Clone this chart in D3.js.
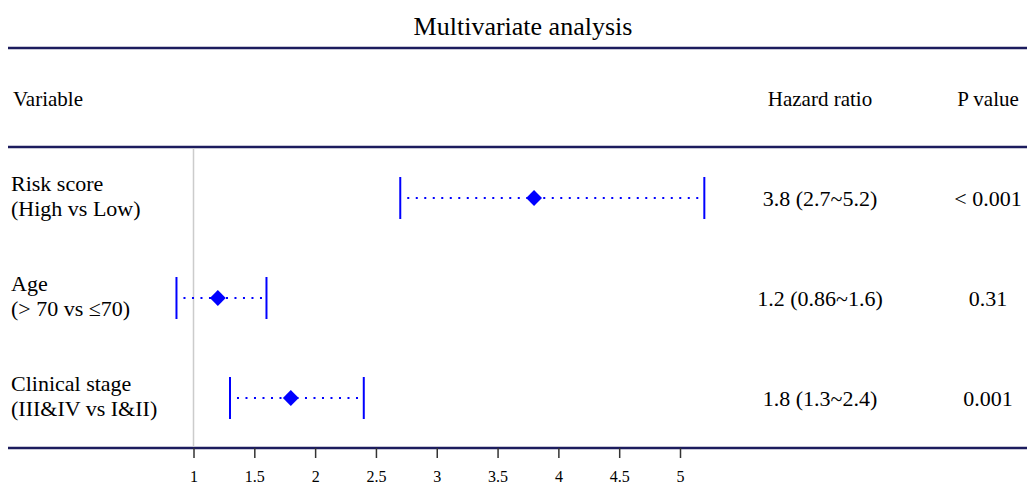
<!DOCTYPE html>
<html>
<head>
<meta charset="utf-8">
<script src="https://cdn.jsdelivr.net/npm/d3@7"></script>
<style>
  body { margin: 0; background: #fff; }
  svg text { font-family: "Liberation Serif", "Times New Roman", serif; fill: #000; }
</style>
</head>
<body>
<div id="chart"></div>
<script>
const variables = ['Risk score', 'Age', 'Clinical stage'];
const subLabels = ['(High vs Low)', '(> 70 vs \u226470)', '(III&IV vs I&II)'];
const hr = [3.8, 1.2, 1.8];
const lower = [2.7, 0.86, 1.3];
const upper = [5.2, 1.6, 2.4];
const hrText = ['3.8 (2.7~5.2)', '1.2 (0.86~1.6)', '1.8 (1.3~2.4)'];
const pText = ['< 0.001', '0.31', '0.001'];
const ticks = [1, 1.5, 2, 2.5, 3, 3.5, 4, 4.5, 5];

const width = 1027, height = 487;
const navy = '#1c1c5e';

const svg = d3.select('#chart').append('svg')
    .attr('width', width)
    .attr('height', height);

const x = d3.scaleLinear().domain([1, 5]).range([193.5, 680]);
const y = d3.scalePoint().domain(variables).range([198, 398]);

const topY = 147, bottomY = 448;

// title + header
svg.append('text')
    .attr('x', 523).attr('y', 35)
    .attr('text-anchor', 'middle')
    .style('font-size', '26px')
    .text('Multivariate analysis');

[48, topY, bottomY].forEach(yy => {
    svg.append('line')
        .attr('x1', 8).attr('x2', width)
        .attr('y1', yy).attr('y2', yy)
        .attr('stroke', navy)
        .attr('stroke-width', 2.5);
});

svg.append('text').attr('x', 13).attr('y', 106).style('font-size', '21px').text('Variable');
svg.append('text').attr('x', 820).attr('y', 106).attr('text-anchor', 'middle').style('font-size', '21px').text('Hazard ratio');
svg.append('text').attr('x', 988).attr('y', 106).attr('text-anchor', 'middle').style('font-size', '21px').text('P value');

// reference line at HR = 1
svg.append('line')
    .attr('x1', x(1)).attr('x2', x(1))
    .attr('y1', topY + 1).attr('y2', bottomY - 1)
    .attr('stroke', '#cccccc')
    .attr('stroke-width', 1.5);

// axis
const axis = svg.append('g')
    .attr('transform', `translate(0,${bottomY})`)
    .call(d3.axisBottom(x).tickValues(ticks).tickSize(10).tickPadding(13).tickFormat(d3.format('')));
axis.select('.domain').remove();
axis.selectAll('.tick line').attr('stroke', '#333').attr('stroke-width', 1.5);
axis.selectAll('.tick text').style('font-size', '16px').style('font-family', '"Liberation Serif", serif');

// rows
const rows = svg.append('g').selectAll('g')
    .data(variables)
    .join('g');

rows.append('text')
    .attr('x', 11).attr('y', d => y(d) - 7)
    .style('font-size', '22px')
    .text(d => d);
rows.append('text')
    .attr('x', 11).attr('y', (d, i) => y(d) + 18)
    .style('font-size', '22px')
    .text((d, i) => subLabels[i]);

rows.append('line')
    .attr('x1', (d, i) => x(lower[i]) + 7)
    .attr('x2', (d, i) => x(upper[i]) - 3)
    .attr('y1', d => y(d)).attr('y2', d => y(d))
    .attr('stroke', 'blue')
    .attr('stroke-width', 2)
    .attr('stroke-dasharray', '2,6.5');

rows.append('line')
    .attr('x1', (d, i) => x(lower[i])).attr('x2', (d, i) => x(lower[i]))
    .attr('y1', d => y(d) - 21).attr('y2', d => y(d) + 21)
    .attr('stroke', 'blue').attr('stroke-width', 2);
rows.append('line')
    .attr('x1', (d, i) => x(upper[i])).attr('x2', (d, i) => x(upper[i]))
    .attr('y1', d => y(d) - 21).attr('y2', d => y(d) + 21)
    .attr('stroke', 'blue').attr('stroke-width', 2);

rows.append('path')
    .attr('d', d3.symbol().type(d3.symbolDiamond2).size(160))
    .attr('transform', (d, i) => `translate(${x(hr[i])},${y(d)})`)
    .attr('fill', 'blue');

rows.append('text')
    .attr('x', 820).attr('y', d => y(d) + 8)
    .attr('text-anchor', 'middle')
    .style('font-size', '22px')
    .text((d, i) => hrText[i]);
rows.append('text')
    .attr('x', 988).attr('y', d => y(d) + 8)
    .attr('text-anchor', 'middle')
    .style('font-size', '22px')
    .text((d, i) => pText[i]);
</script>
</body>
</html>
